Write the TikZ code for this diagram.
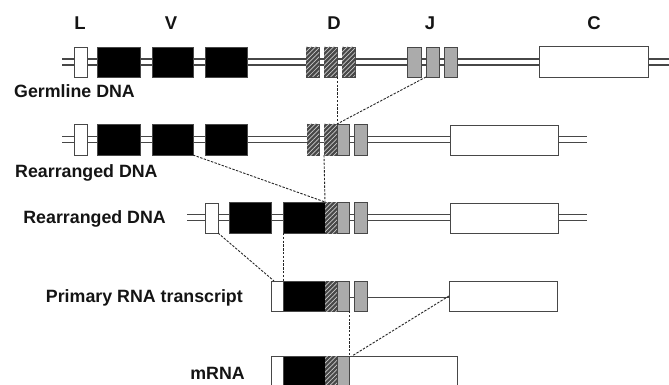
\documentclass[tikz,border=0pt]{standalone}
\usepackage{fontspec}
\setmainfont{Liberation Sans}
\usetikzlibrary{patterns.meta,calc}
\begin{document}
\begin{tikzpicture}[x=1pt,y=-1pt,
  dna/.style={draw=black!72,line width=1.2pt},
  seg/.style={draw=black!72,line width=0.9pt,rectangle,inner sep=0pt,outer sep=0pt,anchor=north west},
  lbox/.style={seg,fill=white},
  vbox/.style={seg,fill=black},
  dbox/.style={seg,fill=black!72,postaction={pattern={Lines[angle=45,distance=3.2pt,line width=0.7pt]},pattern color=white!80!black}},
  jbox/.style={seg,fill=black!33},
  cbox/.style={seg,fill=white},
  conn/.style={draw=black!85,line width=0.9pt,dash pattern=on 2.4pt off 1.4pt},
  lab/.style={font=\fontsize{17.8}{20}\selectfont\bfseries,text=black!92,inner sep=0pt},
  hdr/.style={font=\fontsize{18.5}{20}\selectfont\bfseries,text=black!92,inner sep=0pt,anchor=base}]
\useasboundingbox (0,0) rectangle (669,385);
% ---------- headers
\node[hdr] (hL) at (80,30) {L};
\node[hdr] (hV) at (171,30) {V};
\node[hdr] (hD) at (334,30) {D};
\node[hdr] (hJ) at (430,30) {J};
\node[hdr] (hC) at (594,30) {C};
% ---------- row 1 : germline
\draw[dna] (62,59) -- (669,59) (62,65) -- (669,65);
\node[lbox,minimum width=13pt,minimum height=30pt] (r1L) at (74,47) {};
\node[vbox,minimum width=43pt,minimum height=30pt] (r1V1) at (97,47) {};
\node[vbox,minimum width=41pt,minimum height=30pt] (r1V2) at (152,47) {};
\node[vbox,minimum width=42pt,minimum height=30pt] (r1V3) at (205,47) {};
\node[dbox,minimum width=13pt,minimum height=30pt] (r1D1) at (306,47) {};
\node[dbox,minimum width=13pt,minimum height=30pt] (r1D2) at (324,47) {};
\node[dbox,minimum width=13pt,minimum height=30pt] (r1D3) at (342,47) {};
\node[jbox,minimum width=14pt,minimum height=30pt] (r1J1) at (407,47) {};
\node[jbox,minimum width=13pt,minimum height=30pt] (r1J2) at (426,47) {};
\node[jbox,minimum width=13pt,minimum height=30pt] (r1J3) at (444,47) {};
\node[cbox,minimum width=109pt,minimum height=31pt] (r1C) at (539,46) {};
\node[lab,anchor=base west] (t1) at (14,98) {Germline DNA};
% ---------- row 2 : D-J rearranged
\draw[dna] (62,136.5) -- (587,136.5) (62,142.5) -- (587,142.5);
\node[lbox,minimum width=13pt,minimum height=31pt] (r2L) at (74,124) {};
\node[vbox,minimum width=43pt,minimum height=31pt] (r2V1) at (97,124) {};
\node[vbox,minimum width=41pt,minimum height=31pt] (r2V2) at (152,124) {};
\node[vbox,minimum width=42pt,minimum height=31pt] (r2V3) at (205,124) {};
\node[dbox,minimum width=12pt,minimum height=31pt] (r2D1) at (307,124) {};
\node[dbox,minimum width=13pt,minimum height=31pt] (r2D2) at (324,124) {};
\node[jbox,minimum width=12pt,minimum height=31pt] (r2J1) at (337,124) {};
\node[jbox,minimum width=13pt,minimum height=31pt] (r2J2) at (354,124) {};
\node[cbox,minimum width=108pt,minimum height=30pt] (r2C) at (450,125) {};
\node[lab,anchor=base west] (t2) at (15,177) {Rearranged DNA};
% ---------- row 3 : V-DJ rearranged
\draw[dna] (187,214.5) -- (587,214.5) (187,220.5) -- (587,220.5);
\node[lbox,minimum width=13pt,minimum height=30pt] (r3L) at (205,203) {};
\node[vbox,minimum width=42pt,minimum height=31pt] (r3V1) at (229,202) {};
\node[vbox,minimum width=42pt,minimum height=31pt] (r3V) at (283,202) {};
\node[dbox,minimum width=12pt,minimum height=31pt] (r3D) at (325,202) {};
\node[jbox,minimum width=12pt,minimum height=31pt] (r3J1) at (337,202) {};
\node[jbox,minimum width=13pt,minimum height=31pt] (r3J2) at (354,202) {};
\node[cbox,minimum width=108pt,minimum height=30pt] (r3C) at (450,203) {};
\node[lab,anchor=base east] (t3) at (166,223) {Rearranged DNA};
% ---------- row 4 : primary transcript
\draw[draw=black!72,line width=1pt] (349,297) -- (449,297);
\node[lbox,minimum width=12pt,minimum height=30pt] (r4L) at (271,281) {};
\node[vbox,minimum width=42pt,minimum height=30pt] (r4V) at (283,281) {};
\node[dbox,minimum width=12pt,minimum height=30pt] (r4D) at (325,281) {};
\node[jbox,minimum width=12pt,minimum height=30pt] (r4J1) at (337,281) {};
\node[jbox,minimum width=13pt,minimum height=30pt] (r4J2) at (354,281) {};
\node[cbox,minimum width=108pt,minimum height=30pt] (r4C) at (449,281) {};
\node[lab,anchor=base east] (t4) at (243,302) {Primary RNA transcript};
% ---------- row 5 : mRNA
\node[lbox,minimum width=12pt,minimum height=31pt] (r5L) at (271,356) {};
\node[vbox,minimum width=42pt,minimum height=31pt] (r5V) at (283,356) {};
\node[dbox,minimum width=12pt,minimum height=31pt] (r5D) at (325,356) {};
\node[jbox,minimum width=12pt,minimum height=31pt] (r5J) at (337,356) {};
\node[cbox,minimum width=108pt,minimum height=31pt] (r5C) at (349,356) {};
\node[lab,anchor=base east] (t5) at (245,379) {mRNA};
% ---------- dashed connectors
\draw[conn] (r1D2.south east) -- (r2D2.north east);
\draw[conn] (r1J2.south west) -- (r2D2.north east);
\draw[conn] (r2V2.south east) -- (r3V.north east);
\draw[conn] (r2D2.south west) -- (r3D.north west);
\draw[conn] (r3L.south east) -- ($(r4L.north west)+(3,0)$);
\draw[conn] (r3V.south west) -- (r4V.north west);
\draw[conn] (r4J1.south east) -- (r5J.north east);
\draw[conn] (r4C.west) -- ($(r5C.north west)+(3,0)$);
\end{tikzpicture}
\end{document}
